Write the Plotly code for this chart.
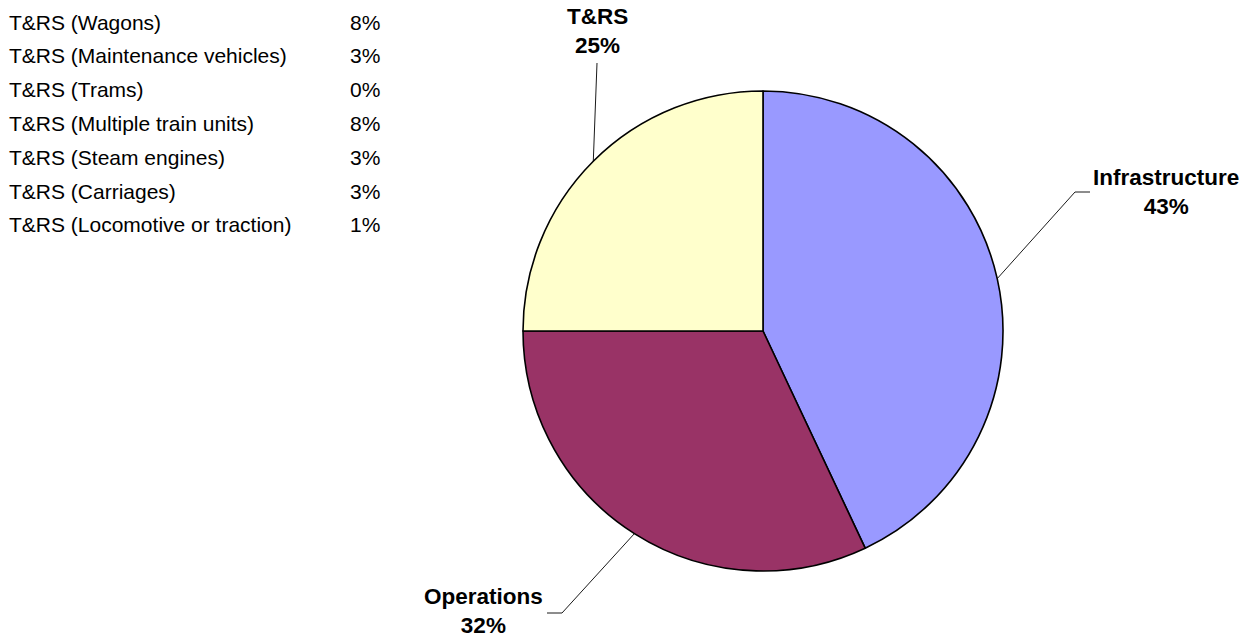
import math
import plotly.graph_objects as go

# ---- data ----
categories = ["Infrastructure", "Operations", "T&RS"]
values = [43, 32, 25]
colors = ["#9999FF", "#993366", "#FFFFCC"]

table_labels = [
    "T&RS (Wagons)",
    "T&RS (Maintenance vehicles)",
    "T&RS (Trams)",
    "T&RS (Multiple train units)",
    "T&RS (Steam engines)",
    "T&RS (Carriages)",
    "T&RS (Locomotive or traction)",
]
table_values = [8, 3, 0, 8, 3, 3, 1]

# ---- layout constants ----
W, H = 1248, 637
CX, CY, R = 763, 331, 240  # pie centre / radius in pixels

def px(x):
    return x / W

def py(y):
    return 1 - y / H

FONT = "Liberation Sans, Arial, sans-serif"

fig = go.Figure()
fig.add_trace(go.Pie(
    labels=categories,
    values=values,
    marker=dict(colors=colors, line=dict(color="#000000", width=1.6)),
    sort=False,
    direction="clockwise",
    rotation=0,
    textinfo="none",
    hoverinfo="label+percent",
    domain=dict(x=[px(CX - R), px(CX + R)], y=[py(CY + R), py(CY - R)]),
    showlegend=False,
))

# label placement (pixels): label centre, leader elbow, leader end
label_pos = {
    "Infrastructure": dict(tx=1166, ty=192, pts=[(1075, 192), (1090, 192)]),
    "Operations": dict(tx=483, ty=611, pts=[(562, 613), (547, 613)]),
    "T&RS": dict(tx=597, ty=31, pts=[(597, 63)]),
}

total = sum(values)
cum = 0
annotations = []
shapes = []
for cat, v in zip(categories, values):
    mid = (cum + v / 2) / total
    cum += v
    ang = 2 * math.pi * mid
    ex = CX + R * math.sin(ang)
    ey = CY - R * math.cos(ang)
    lp = label_pos[cat]
    pts = [(ex, ey)] + lp["pts"]
    path = "M " + " L ".join(f"{px(x)},{py(y)}" for x, y in pts)
    shapes.append(dict(type="path", xref="paper", yref="paper", path=path,
                       line=dict(color="#000000", width=0.9)))
    pct = round(100 * v / total)
    annotations.append(dict(
        x=px(lp["tx"]), y=py(lp["ty"]), xref="paper", yref="paper",
        text=f"<b>{cat}</b><br><b>{pct}%</b>", showarrow=False,
        xanchor="center", yanchor="middle", align="center",
        font=dict(family=FONT, size=22.5, color="#000000"),
    ))

row0, row_step = 22, 33.8
for i, (lab, val) in enumerate(zip(table_labels, table_values)):
    y = row0 + i * row_step
    annotations.append(dict(
        x=px(7), y=py(y), xref="paper", yref="paper", text=lab,
        showarrow=False, xanchor="left", yanchor="middle",
        font=dict(family=FONT, size=21, color="#000000"),
    ))
    annotations.append(dict(
        x=px(382), y=py(y), xref="paper", yref="paper", text=f"{val}%",
        showarrow=False, xanchor="right", yanchor="middle",
        font=dict(family=FONT, size=21, color="#000000"),
    ))

fig.update_layout(
    width=W, height=H,
    margin=dict(l=0, r=0, t=0, b=0),
    paper_bgcolor="#FFFFFF",
    plot_bgcolor="#FFFFFF",
    annotations=annotations,
    shapes=shapes,
    font=dict(family=FONT),
)

fig.write_html("out.html")
